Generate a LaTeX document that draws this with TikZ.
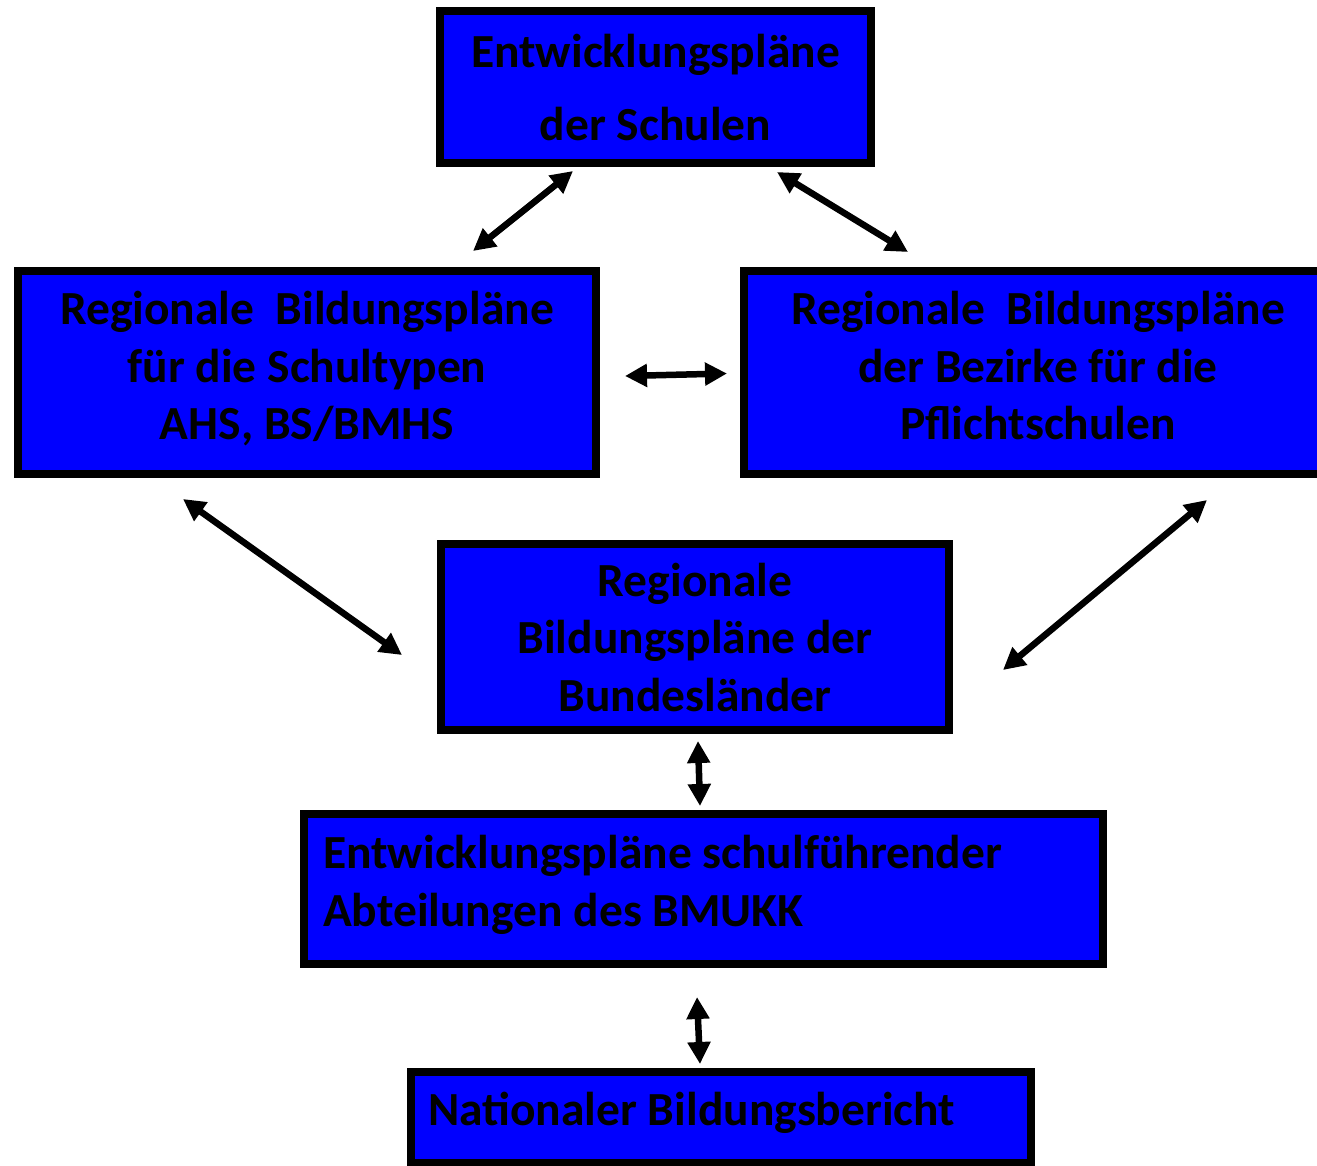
\documentclass[tikz,border=0pt]{standalone}
\usepackage{fontspec}
\setmainfont{Carlito}
\usetikzlibrary{arrows.meta,calc}
\definecolor{boxblue}{RGB}{0,0,255}
\begin{document}
\begin{tikzpicture}[x=1pt,y=-1pt,
  box/.style={draw=black, line width=8pt, fill=boxblue, rectangle, inner sep=0pt},
  txt/.style={font=\bfseries\fontsize{47.5}{57.5}\selectfont, inner sep=0pt, text=black},
  conn/.style={line width=6.5pt, {Triangle[length=22pt,width=22pt]}-{Triangle[length=22pt,width=22pt]}}]
\useasboundingbox (0,0) rectangle (1317,1165);
\clip (0,0) rectangle (1317,1165);
% boxes
\node[box, minimum width=431pt, minimum height=152pt] (b1) at (655.5,87) {};
\node[box, minimum width=578pt, minimum height=203pt] (b2) at (307,372.5) {};
\node[box, minimum width=578pt, minimum height=203pt] (b3) at (1033,372.5) {};
\node[box, minimum width=508pt, minimum height=186pt] (b4) at (695,637) {};
\node[box, minimum width=799pt, minimum height=150pt] (b5) at (703.5,889) {};
\node[box, minimum width=620pt, minimum height=91pt] (b6) at (721,1117.5) {};
% texts
\node[txt, align=center] (t1) at (655.5,88) {Entwicklungspläne\\[15.5pt]der Schulen};
\node[txt, align=center] (t2) at (307,369) {Regionale\ \ Bildungspläne\\für die Schultypen\\AHS, BS/BMHS};
\node[txt, align=center] (t3) at (1038,366) {Regionale\ \ Bildungspläne\\der Bezirke für die\\Pflichtschulen};
\node[txt, align=center] (t4) at (695,637) {Regionale\\Bildungspläne der\\Bundesländer};
\node[txt, align=left, anchor=west] (t5) at (323,885) {Entwicklungspläne schulführender\\Abteilungen des BMUKK};
\node[txt, align=left, anchor=west] (t6) at (428,1113) {Nationaler Bildungsbericht};
% connectors
\draw[conn] ($(b1.south)+(-82.5,4)$) -- ($(b2.north east)+(-127,-16)$);
\draw[conn] ($(b1.south)+(121.5,5)$) -- ($(b3.north west)+(168,-15)$);
\draw[conn] ($(b2.east)+(25,3.5)$) -- ($(b3.west)+(-13,1)$);
\draw[conn] ($(b2.south)+(-124,21)$) -- ($(b4.west)+(-35,18)$);
\draw[conn] ($(b3.south)+(174,22)$) -- ($(b4.east)+(50,33)$);
\draw[conn] ($(b4.south)+(3,7)$) -- ($(b5.north)+(-3.5,-4)$);
\draw[conn] ($(b5.south)+(-6.5,29)$) -- ($(b6.north)+(-21,-4)$);
\end{tikzpicture}
\end{document}
